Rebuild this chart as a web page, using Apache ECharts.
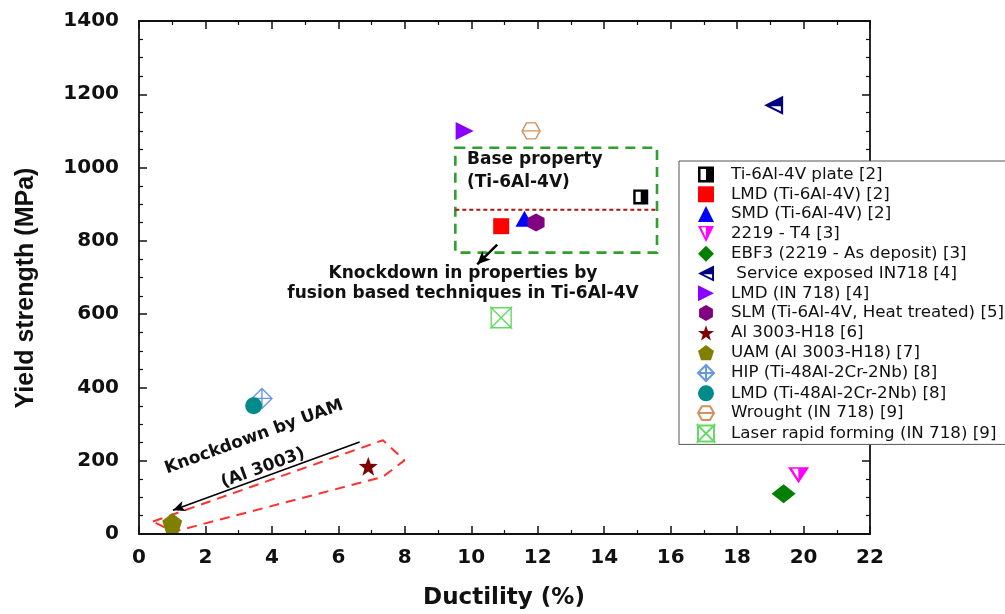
<!DOCTYPE html>
<html><head><meta charset="utf-8">
<script src="https://cdn.jsdelivr.net/npm/echarts@6/dist/echarts.min.js"></script>
<style>html,body{margin:0;padding:0;background:#fff}#c{width:1005px;height:614px}</style>
</head><body><div id="c"></div>
<script>
// ---- data ----
const seriesNames = [
  'Ti-6Al-4V plate [2]', 'LMD (Ti-6Al-4V) [2]', 'SMD (Ti-6Al-4V) [2]', '2219 - T4 [3]',
  'EBF3 (2219 - As deposit) [3]', ' Service exposed IN718 [4]', 'LMD (IN 718) [4]',
  'SLM (Ti-6Al-4V, Heat treated) [5]', 'Al 3003-H18 [6]', 'UAM (Al 3003-H18) [7]',
  'HIP (Ti-48Al-2Cr-2Nb) [8]', 'LMD (Ti-48Al-2Cr-2Nb) [8]', 'Wrought (IN 718) [9]',
  'Laser rapid forming (IN 718) [9]'
];
const ductility = [15.1, 10.9, 11.6, 19.85, 19.4, 19.1, 9.8, 11.95, 6.9, 1.0, 3.7, 3.45, 11.8, 10.9];
const yieldStrength = [920, 840, 860, 160, 110, 1170, 1100, 850, 185, 30, 370, 350, 1100, 590];
const xTicks = [0, 22, 2];
const yTicks = [0, 1400, 200];
// annotation geometry (data units)
const baseBoxX = [9.52, 15.59];
const baseBoxY = [768, 1054];
const baseLineY = 885;
const uamZone = [[0.42, 34], [7.34, 256], [7.99, 201], [7.34, 156], [1.03, 6], [0.42, 34]];
const uamArrow = [[6.64, 251], [1.02, 65]];
const tiArrow = [[10.78, 790], [10.18, 736]];

// ---- styles ----
const F = 'DejaVu Sans';
const symbols = [
  'path://M0,0 H10 V10 H0 Z M1.6,1.6 V8.4 H5 V1.6 Z',
  'rect', 'triangle',
  'path://M0,0 L10,0 L5,10 Z M1.9,0.9 L4.9,7.3 L4.9,0.9 Z',
  'diamond',
  'path://M0,5 L10,0 L10,10 Z M3.4,5.5 L8.8,8.2 L8.8,5.5 Z',
  'path://M0,0 L10,5 L0,10 Z',
  'path://M5,0 L9.33,2.5 L9.33,7.5 L5,10 L0.67,7.5 L0.67,2.5 Z',
  'path://M5,0 L6.176,3.382 L9.755,3.455 L6.902,5.618 L7.939,9.045 L5,7 L2.061,9.045 L3.098,5.618 L0.245,3.455 L3.824,3.382 Z',
  'path://M5,0 L9.755,3.455 L7.939,9.045 L2.061,9.045 L0.245,3.455 Z',
  'path://M5,0 L10,5 L5,10 L0,5 Z M5,0 L5,10 M0,5 L10,5',
  'circle',
  'path://M0,5 L2.5,0.67 L7.5,0.67 L10,5 L7.5,9.33 L2.5,9.33 Z M0,5 L10,5',
  'path://M0,0 L10,0 L0,10 L10,10 Z M0,0 L0,10 L10,0 L10,10 Z'
];
const sizes = [15, 16, [18, 16], [21, 16], [24, 19], 19, [18, 18], [17, 18], 19, 20, 20, 17, [18, 16], 20];
const colors = ['#000000', '#ff0000', '#0000ff', '#ff00ff', '#008000', '#000080', '#8a00ff',
  '#800080', '#800000', '#808000', '#3d7fd9', '#008b8b', '#c87533', '#3fd03f'];
const hollow = [false, false, false, false, false, false, false, false, false, false, true, false, true, true];

const chart = echarts.init(document.getElementById('c'), null, {renderer: 'canvas'});

const series = seriesNames.map((n, i) => ({
  name: n, type: 'scatter', z: 5,
  symbol: symbols[i], symbolSize: sizes[i],
  data: [[ductility[i], yieldStrength[i]]],
  itemStyle: hollow[i]
    ? {color: 'rgba(255,255,255,0)', borderColor: colors[i], borderWidth: 1.4}
    : {color: colors[i], opacity: 1},
  emphasis: {disabled: true}
}));

series.push({
  type: 'line', name: '_base', data: [[baseBoxX[0], baseLineY], [baseBoxX[1], baseLineY]],
  symbol: 'none', silent: true, z: 3,
  lineStyle: {color: '#b01010', width: 2, type: [4, 3]},
  markArea: {silent: true, itemStyle: {color: 'rgba(0,0,0,0)', borderColor: '#2ea02e', borderWidth: 2.6, borderType: [10, 7]},
    data: [[{coord: [baseBoxX[0], baseBoxY[1]]}, {coord: [baseBoxX[1], baseBoxY[0]]}]]},
  markLine: {silent: true, symbol: ['none', 'arrow'], symbolSize: [9, 13], label: {show: false},
    lineStyle: {color: '#000', width: 2.5, type: 'solid'},
    data: [[{coord: tiArrow[0]}, {coord: tiArrow[1]}]]}
});
series.push({
  type: 'line', name: '_uam', data: uamZone, symbol: 'none', silent: true, z: 3,
  lineStyle: {color: '#ff3030', width: 2, type: [10, 7]},
  markLine: {silent: true, symbol: ['none', 'arrow'], symbolSize: [8, 12], label: {show: false},
    lineStyle: {color: '#000', width: 1.6, type: 'solid'},
    data: [[{coord: uamArrow[0]}, {coord: uamArrow[1]}]]}
});

const axisCommon = {
  type: 'value',
  axisLine: {show: true, onZero: false, lineStyle: {color: '#111', width: 1.8}},
  axisTick: {show: true, inside: true, length: 8, lineStyle: {color: '#111', width: 1.5}},
  minorTick: {show: true, length: 4, lineStyle: {color: '#111', width: 1.2}},
  splitLine: {show: false}, minorSplitLine: {show: false}
};
const labelStyle = {fontFamily: F, fontWeight: 'bold', fontSize: 20, color: '#111', formatter: v => String(v)};

chart.setOption({
  animation: false,
  backgroundColor: '#fff',
  grid: {left: 139, right: 135, top: 21, bottom: 80},
  xAxis: [
    Object.assign({}, axisCommon, {min: xTicks[0], max: xTicks[1], interval: xTicks[2], position: 'bottom',
      minorTick: Object.assign({}, axisCommon.minorTick, {splitNumber: 2}),
      axisLabel: Object.assign({margin: 14}, labelStyle)}),
    Object.assign({}, axisCommon, {min: xTicks[0], max: xTicks[1], interval: xTicks[2], position: 'top',
      minorTick: Object.assign({}, axisCommon.minorTick, {splitNumber: 2}),
      axisLabel: {show: false}})
  ],
  yAxis: [
    Object.assign({}, axisCommon, {min: yTicks[0], max: yTicks[1], interval: yTicks[2], position: 'left',
      minorTick: Object.assign({}, axisCommon.minorTick, {splitNumber: 4}),
      axisLabel: Object.assign({margin: 20}, labelStyle)}),
    Object.assign({}, axisCommon, {min: yTicks[0], max: yTicks[1], interval: yTicks[2], position: 'right',
      minorTick: Object.assign({}, axisCommon.minorTick, {splitNumber: 4}),
      axisLabel: {show: false}})
  ],
  legend: {
    data: seriesNames, orient: 'vertical', left: 679, top: 161,
    backgroundColor: '#fff', borderColor: '#555', borderWidth: 1,
    padding: [5, 20, 2, 18], itemWidth: 16, itemHeight: 16, itemGap: 2.8,
    selectedMode: false,
    textStyle: {fontFamily: F, fontSize: 16.7, color: '#111', lineHeight: 16, padding: [0, 0, 0, 12]}
  },
  graphic: [
    {type: 'text', x: 504, y: 598, silent: true,
      style: {text: 'Ductility (%)', fontFamily: F, fontWeight: 'bold', fontSize: 23, fill: '#111', align: 'center', verticalAlign: 'middle'}},
    {type: 'text', x: 26, y: 288, rotation: Math.PI / 2, silent: true,
      style: {text: 'Yield strength (MPa)', fontFamily: 'Liberation Sans', fontWeight: 'bold', fontSize: 25, fill: '#111', align: 'center', verticalAlign: 'middle'}},
    {type: 'text', x: 467, y: 160, silent: true,
      style: {text: 'Base property', fontFamily: F, fontWeight: 'bold', fontSize: 17, fill: '#111', align: 'left', verticalAlign: 'middle'}},
    {type: 'text', x: 467, y: 183, silent: true,
      style: {text: '(Ti-6Al-4V)', fontFamily: F, fontWeight: 'bold', fontSize: 17, fill: '#111', align: 'left', verticalAlign: 'middle'}},
    {type: 'text', x: 463, y: 274, silent: true,
      style: {text: 'Knockdown in properties by', fontFamily: F, fontWeight: 'bold', fontSize: 17, fill: '#111', align: 'center', verticalAlign: 'middle'}},
    {type: 'text', x: 463, y: 294, silent: true,
      style: {text: 'fusion based techniques in Ti-6Al-4V', fontFamily: F, fontWeight: 'bold', fontSize: 17, fill: '#111', align: 'center', verticalAlign: 'middle'}},
    {type: 'text', x: 254, y: 437, rotation: 20 * Math.PI / 180, silent: true,
      style: {text: 'Knockdown by UAM', fontFamily: F, fontWeight: 'bold', fontSize: 17, fill: '#111', align: 'center', verticalAlign: 'middle'}},
    {type: 'text', x: 263, y: 468, rotation: 20 * Math.PI / 180, silent: true,
      style: {text: '(Al 3003)', fontFamily: F, fontWeight: 'bold', fontSize: 17, fill: '#111', align: 'center', verticalAlign: 'middle'}}
  ],
  series: series
});
</script></body></html>
